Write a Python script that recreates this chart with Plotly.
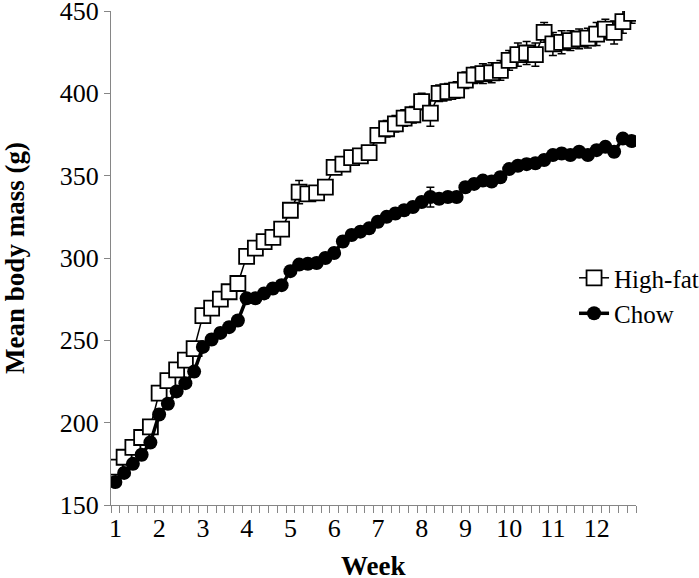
import plotly.graph_objects as go

# measurement sessions (5 per week, weekdays), 12 weeks
session = list(range(60))
week_labels = [str(w) for w in range(1, 13)]
week_label_pos = [0, 5, 10, 15, 20, 25, 30, 35, 40, 45, 50, 55]
y_ticks = [150, 200, 250, 300, 350, 400, 450]

high_fat = [173, 179, 185, 191, 197.5,
            218, 225.5, 232, 238, 245,
            265, 269.5, 275, 279.5, 284.5,
            301, 306, 310, 312.5, 317.5,
            329, 340, 339, 339.5, 343,
            355, 357, 361, 362, 364,
            374.5, 378.5, 381.5, 385, 387,
            395, 388, 400, 401, 402,
            408, 411, 412, 412.5, 414,
            420, 423.5, 424.5, 423.5, 437,
            430, 431, 432, 433, 433.5,
            436, 439, 437, 443.5, 448.5]
high_fat_sem = [3, 3, 3, 3, 3, 3, 3, 3, 3, 3,
                3, 3, 3, 3, 3, 4, 4, 4, 4, 4,
                4, 7, 4, 4, 4, 4, 4, 4, 4, 4,
                4, 5, 5, 5, 5, 5, 8, 5, 5, 5,
                5, 5, 6, 6, 6, 6, 7, 7, 7, 6,
                7, 7, 6, 6, 6, 7, 6, 7, 7, 6]

chow = [164, 169.5, 175, 180.5, 188,
        205, 211.5, 219, 224, 231,
        246, 250.5, 254.5, 258, 262,
        275.5, 275.5, 278.5, 281.5, 283.5,
        292, 296, 296.5, 297, 300,
        303, 310, 314, 316, 318,
        322, 325, 327, 329, 331,
        334, 337, 336, 337, 337,
        343, 345, 347, 346.5, 349,
        354, 356, 357, 357.5, 359.5,
        362.5, 363.5, 362.5, 364.5, 362.5,
        365.5, 367.5, 364.5, 372.5, 371]
chow_sem = [3] * 36 + [6] + [3] * 23

FONT = "Liberation Serif, Times New Roman, serif"
AXIS = "#868686"

fig = go.Figure()
fig.add_trace(go.Scatter(
    x=session, y=high_fat, name="High-fat", mode="lines+markers",
    line=dict(color="black", width=1.5),
    marker=dict(symbol="square", size=15, color="white",
                line=dict(color="black", width=1.8)),
    error_y=dict(type="data", array=high_fat_sem, visible=True,
                 color="black", thickness=1.5, width=4),
))
fig.add_trace(go.Scatter(
    x=session, y=chow, name="Chow", mode="lines+markers",
    line=dict(color="black", width=3.5),
    marker=dict(symbol="circle", size=14, color="black",
                line=dict(color="black", width=0)),
    error_y=dict(type="data", array=chow_sem, visible=True,
                 color="black", thickness=1.5, width=4),
))

fig.update_layout(
    width=699, height=578,
    margin=dict(l=111, r=63, t=11, b=73, autoexpand=False),
    paper_bgcolor="white", plot_bgcolor="white",
    font=dict(family=FONT, size=26, color="black"),
    showlegend=True,
    legend=dict(x=0.882, y=0.424, xanchor="left", yanchor="middle",
                bgcolor="rgba(0,0,0,0)", font=dict(size=25),
                tracegroupgap=0),
    xaxis=dict(
        range=[-0.5, 59.5], tickmode="array", tickvals=week_label_pos,
        ticktext=week_labels, ticks="", showgrid=False, zeroline=False,
        showline=True, linecolor=AXIS, linewidth=1, automargin=False,
        tickfont=dict(size=26), ticklabeloverflow="allow",
        minor=dict(ticks="outside", tickmode="array",
                   tickvals=[s - 0.5 for s in session] + [59.5],
                   ticklen=7, tickcolor=AXIS, tickwidth=1, showgrid=False),
    ),
    yaxis=dict(
        range=[150, 450], tickmode="array", tickvals=y_ticks,
        ticks="outside", ticklen=6, ticklabeloverflow="allow",
        tickcolor=AXIS, showgrid=False, zeroline=False,
        showline=True, linecolor=AXIS, linewidth=1, automargin=True,
        tickfont=dict(size=26),
        title=dict(text="<b>Mean body mass (g)</b>", font=dict(size=27),
                   standoff=31),
    ),
    annotations=[dict(
        text="<b>Week</b>", xref="paper", yref="paper", x=0.5, y=0,
        xanchor="center", yanchor="middle", yshift=-61, showarrow=False,
        font=dict(size=27, family=FONT, color="black"),
    )],
)

fig.write_html("out.html",
               config={"displayModeBar": False},
               post_script="document.body.style.margin='0px';")
